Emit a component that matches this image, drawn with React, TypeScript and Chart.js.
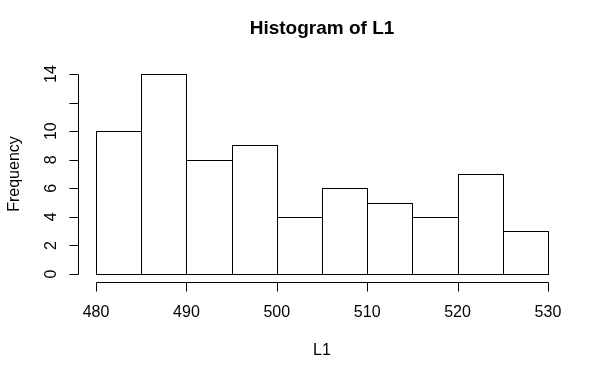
import React, { useEffect, useRef } from "react";
import { Chart, registerables } from "chart.js";

Chart.register(...registerables);

const binStarts = [480, 485, 490, 495, 500, 505, 510, 515, 520, 525];
const binWidth = 5;
const frequencies = [10, 14, 8, 9, 4, 6, 5, 4, 7, 3];
const xTicks = [480, 490, 500, 510, 520, 530];
const yTicks = [0, 2, 4, 6, 8, 10, 12, 14];
const yTickLabels = ["0", "2", "4", "6", "8", "10", "", "14"];
const titleText = "Histogram of L1";
const xLabel = "L1";
const yLabel = "Frequency";

const FONT = "'Liberation Sans', Arial, sans-serif";

const barOutlinePlugin = {
  id: "barOutline",
  afterDatasetsDraw(chart: any) {
    const ctx = chart.ctx;
    const meta = chart.getDatasetMeta(0);
    ctx.save();
    ctx.strokeStyle = "#000";
    ctx.lineWidth = 1;
    meta.data.forEach((el: any) => {
      const p = el.getProps(["x", "y", "base", "width"], true);
      const l = Math.round(p.x - p.width / 2) + 0.5;
      const r = Math.round(p.x + p.width / 2) + 0.5;
      const t = Math.round(p.y) + 0.5;
      const b = Math.round(p.base) + 0.5;
      ctx.strokeRect(l, t, r - l, b - t);
    });
    ctx.restore();
  },
};

const rAxesPlugin = {
  id: "rAxes",
  afterDraw(chart: any) {
    const ctx = chart.ctx;
    const xs = chart.scales.x;
    const ys = chart.scales.y;
    const area = chart.chartArea;
    ctx.save();
    ctx.strokeStyle = "#000";
    ctx.fillStyle = "#000";
    ctx.lineWidth = 1;

    // x axis
    const axY = Math.round(area.bottom) + 0.5;
    const x0 = Math.round(xs.getPixelForValue(xTicks[0])) + 0.5;
    const x1 = Math.round(xs.getPixelForValue(xTicks[xTicks.length - 1])) + 0.5;
    ctx.beginPath();
    ctx.moveTo(x0, axY);
    ctx.lineTo(x1, axY);
    xTicks.forEach((t) => {
      const px = Math.round(xs.getPixelForValue(t)) + 0.5;
      ctx.moveTo(px, axY);
      ctx.lineTo(px, axY + 9);
    });
    ctx.stroke();
    ctx.font = `16px ${FONT}`;
    ctx.textAlign = "center";
    ctx.textBaseline = "alphabetic";
    xTicks.forEach((t) => {
      ctx.fillText(String(t), xs.getPixelForValue(t), 317);
    });

    // y axis
    const axX = Math.round(area.left) + 0.5;
    const y0 = Math.round(ys.getPixelForValue(yTicks[0])) + 0.5;
    const y1 = Math.round(ys.getPixelForValue(yTicks[yTicks.length - 1])) + 0.5;
    ctx.beginPath();
    ctx.moveTo(axX, y0);
    ctx.lineTo(axX, y1);
    yTicks.forEach((t) => {
      const py = Math.round(ys.getPixelForValue(t)) + 0.5;
      ctx.moveTo(axX, py);
      ctx.lineTo(axX - 9, py);
    });
    ctx.stroke();
    yTicks.forEach((t, i) => {
      const lbl = yTickLabels[i];
      if (!lbl) return;
      ctx.save();
      ctx.translate(56, ys.getPixelForValue(t));
      ctx.rotate(-Math.PI / 2);
      ctx.fillText(lbl, 0, 0);
      ctx.restore();
    });

    // axis titles
    const cx = (area.left + area.right) / 2;
    const cy = (area.top + area.bottom) / 2;
    ctx.fillText(xLabel, cx, 355);
    ctx.save();
    ctx.translate(19, cy);
    ctx.rotate(-Math.PI / 2);
    ctx.fillText(yLabel, 0, 0);
    ctx.restore();

    // main title
    ctx.font = `bold 19px ${FONT}`;
    ctx.fillText(titleText, cx, 34);
    ctx.restore();
  },
};

export default function App() {
  const ref = useRef<HTMLCanvasElement | null>(null);
  useEffect(() => {
    if (!ref.current) return;
    const chart = new Chart(ref.current, {
      type: "bar",
      data: {
        datasets: [
          {
            data: binStarts.map((s, i) => ({ x: s + binWidth / 2, y: frequencies[i] })),
            backgroundColor: "#ffffff",
            borderWidth: 0,
            barPercentage: 1,
            categoryPercentage: 1,
          } as any,
        ],
      },
      options: {
        responsive: false,
        animation: false,
        events: [],
        layout: { padding: { left: 78, right: 24, top: 66, bottom: 85 } },
        plugins: {
          legend: { display: false },
          title: { display: false },
          tooltip: { enabled: false },
        },
        scales: {
          x: { type: "linear", min: 478, max: 532, offset: false, display: false },
          y: { type: "linear", min: -0.56, max: 14.56, display: false },
        },
      },
      plugins: [barOutlinePlugin, rAxesPlugin],
    });
    return () => chart.destroy();
  }, []);
  return (
    <div style={{ position: "fixed", left: 0, top: 0, width: 590, height: 367, background: "#fff" }}>
      <canvas ref={ref} width={590} height={367} style={{ width: 590, height: 367 }} />
    </div>
  );
}
